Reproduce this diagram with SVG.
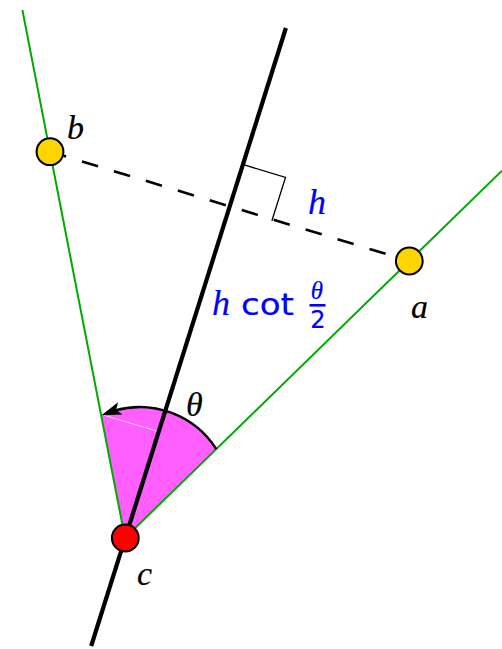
<svg xmlns="http://www.w3.org/2000/svg" width="502" height="649" viewBox="0 0 502 649">
<style>
.green{stroke:#00aa00;stroke-width:2;fill:none}
.node{stroke:#000;stroke-width:2}
.pt{fill:#ffd500}
.math{font-family:"Liberation Serif",serif;font-style:italic}
text{stroke-width:0.2;stroke:#000}
.blue{fill:#0000ff;stroke:#0000ff}
.sans{font-family:"DejaVu Sans",sans-serif}
</style>
<rect width="502" height="649" fill="#fff"/>
<g id="angle">
<path d="M125,538 L216.3,449.1 A91,91 0 0 0 101.2,415.4 Z" fill="#ff5fff"/>
<line x1="103.3" y1="415" x2="156.7" y2="431" stroke="#fff" stroke-width="1" opacity="0.7"/>
</g>
<g id="connectors">
<line class="green" x1="125" y1="538" x2="22.4" y2="10"/>
<line class="green" x1="125" y1="538" x2="502" y2="170.6"/>
<line x1="91.2" y1="646" x2="285.9" y2="28" stroke="#000" stroke-width="4.2"/>
<line x1="50" y1="151.7" x2="409.3" y2="261" stroke="#000" stroke-width="2.6" stroke-dasharray="16.8 16.6"/>
<polyline points="242,164.2 285.5,177.4 271.9,220.8" fill="none" stroke="#000" stroke-width="1.3"/>
<path d="M216.3,449.1 A91,91 0 0 0 114.3,410.6" fill="none" stroke="#000" stroke-width="2.5"/>
<path d="M0,0 L-20,-6.5 L-15.5,0 L-20,6.5 Z" fill="#000" transform="translate(101.5,415.2) rotate(160)"/>
</g>
<g id="node-b"><circle class="node pt" cx="50" cy="151.7" r="13.4"/><text class="math" x="67" y="139" font-size="34">b</text></g>
<g id="node-a"><circle class="node pt" cx="409.3" cy="261" r="13.4"/><text class="math" x="411" y="318" font-size="34">a</text></g>
<g id="node-c"><circle class="node" fill="#ff0000" cx="125.3" cy="538" r="13.4"/><text class="math" x="137" y="585" font-size="34">c</text></g>
<g id="label-theta"><text class="math" x="186" y="416" font-size="34">θ</text></g>
<g id="label-h"><text class="math blue" x="308" y="214" font-size="36">h</text></g>
<g id="label-hcot">
<text class="math blue" x="212" y="315" font-size="36">h</text>
<text class="sans blue" x="241" y="315" font-size="31" textLength="53" lengthAdjust="spacingAndGlyphs">cot</text>
<text class="math blue" x="317" y="298.5" font-size="25" text-anchor="middle">θ</text>
<line x1="309.5" y1="305.3" x2="325.5" y2="305.3" stroke="#0000ff" stroke-width="2.6"/>
<text class="sans blue" x="318" y="328" font-size="24" text-anchor="middle">2</text>
</g>
</svg>
